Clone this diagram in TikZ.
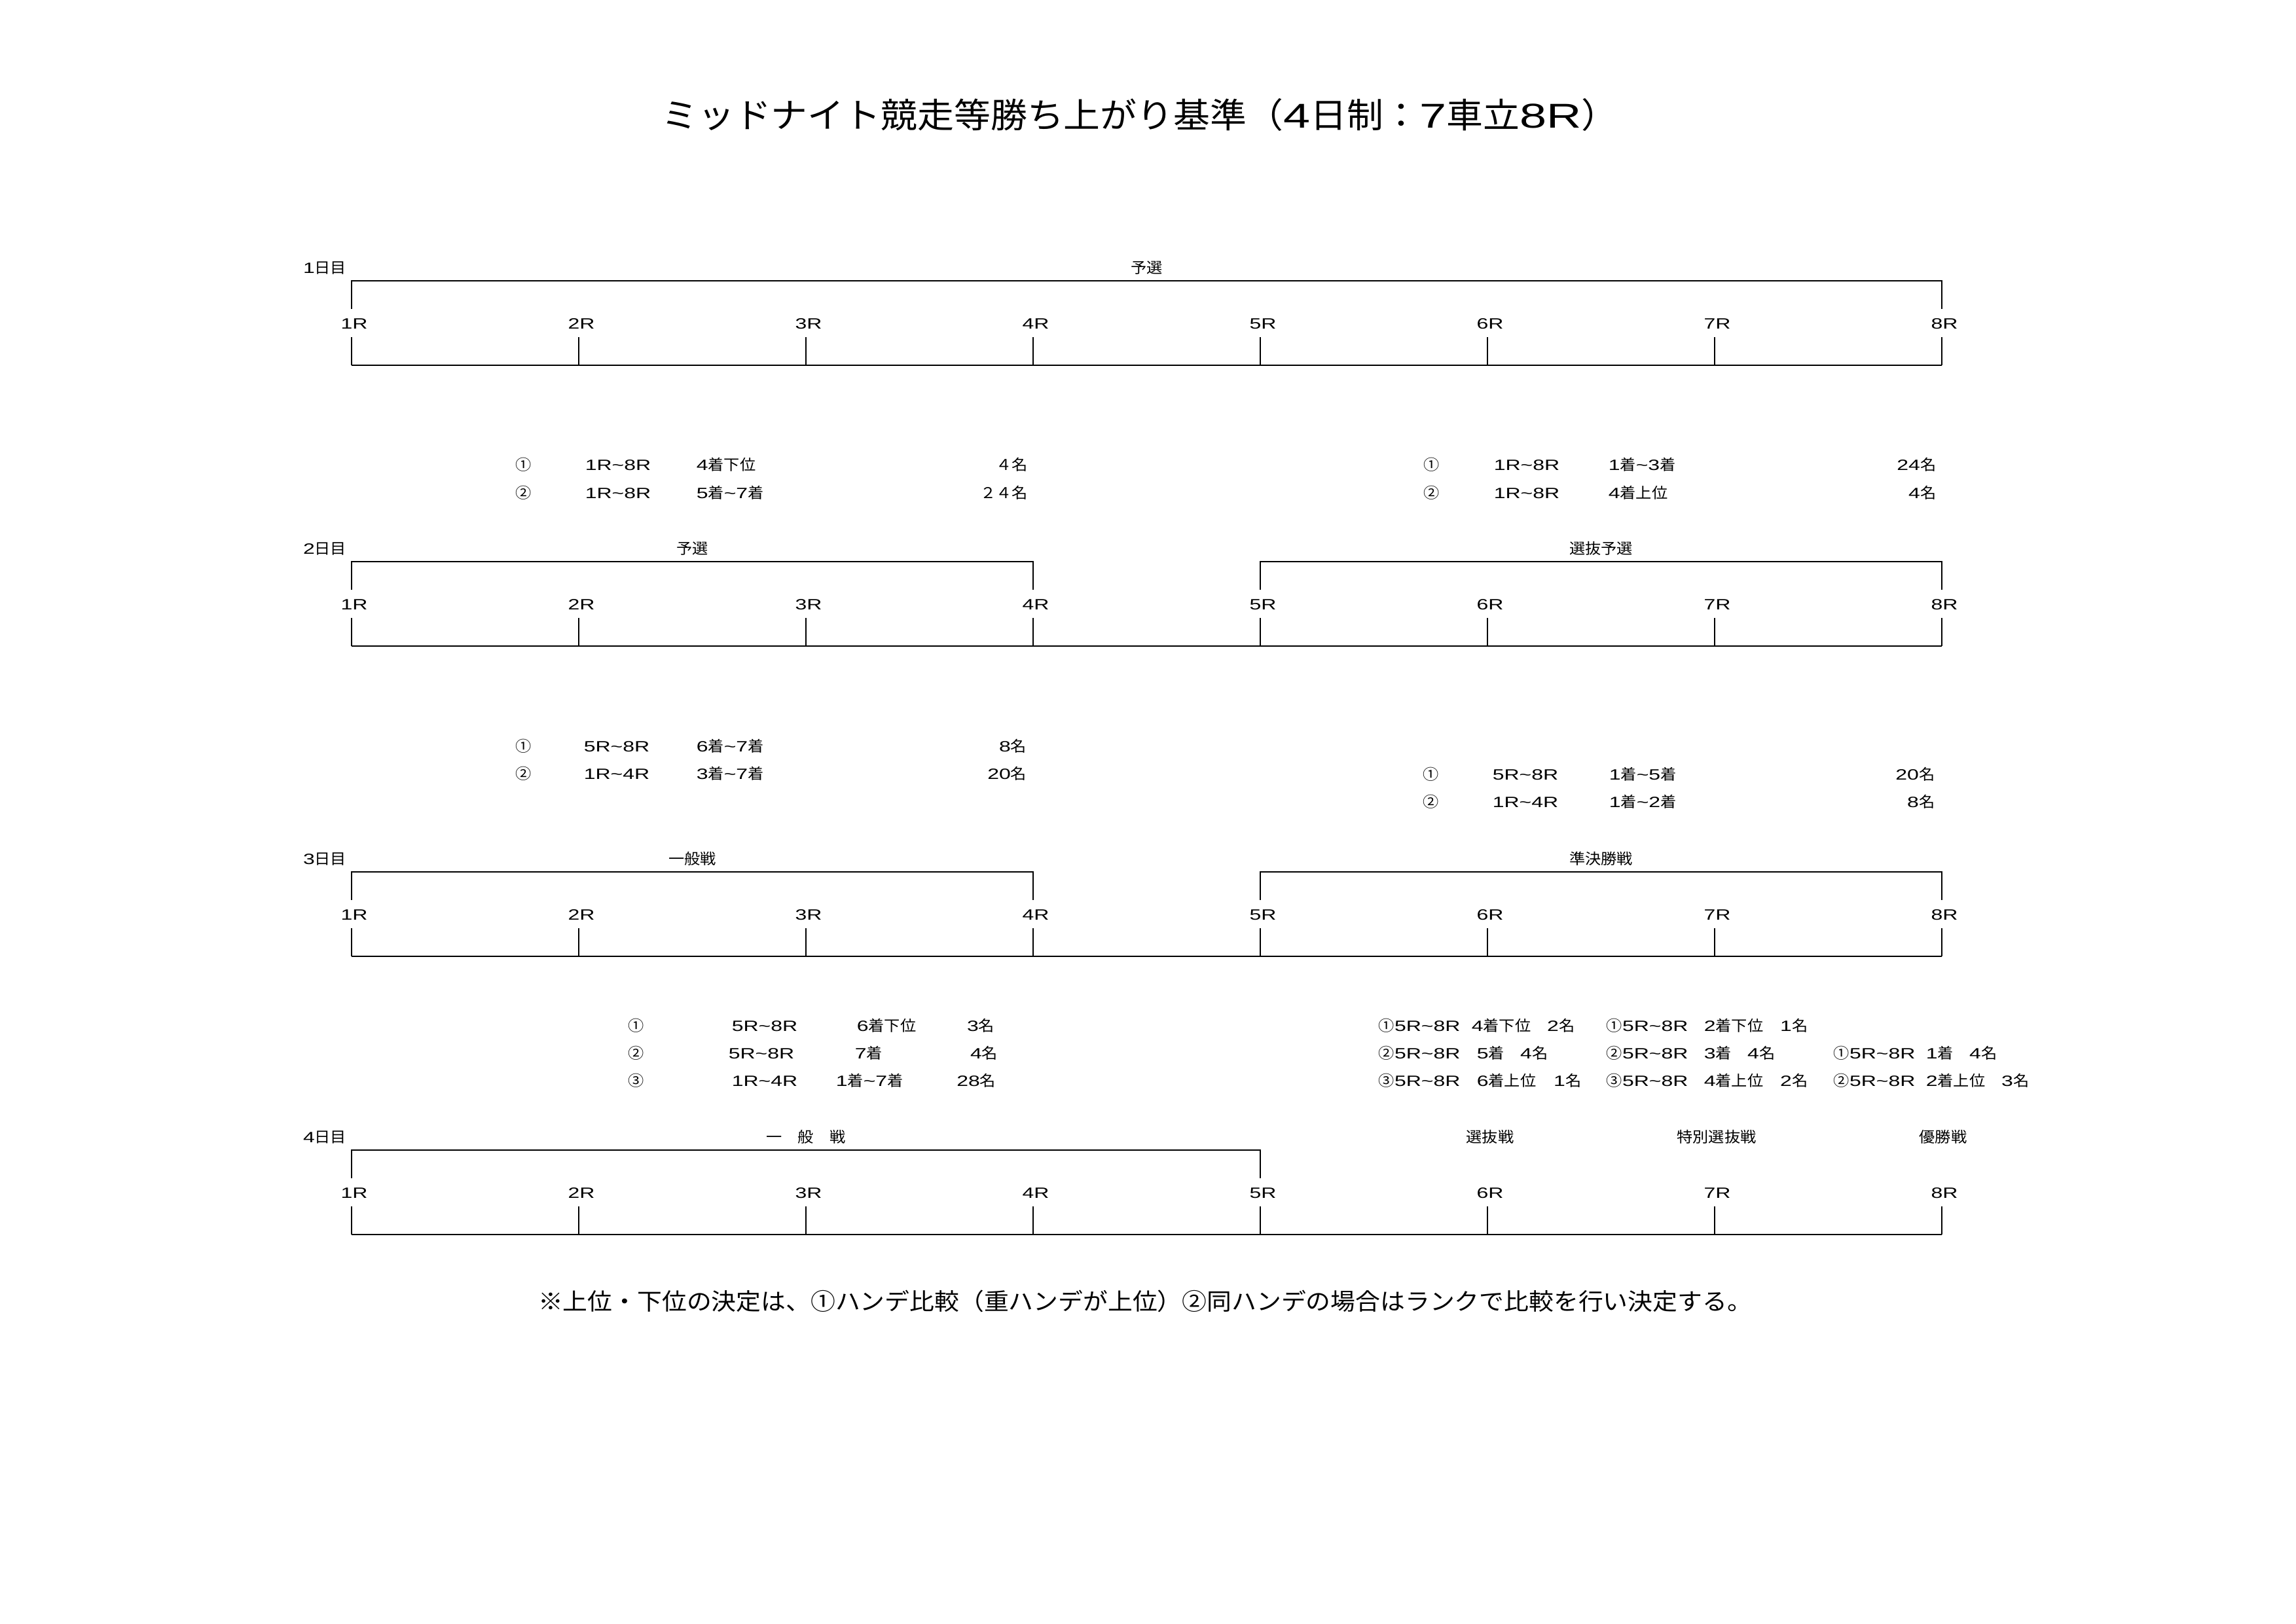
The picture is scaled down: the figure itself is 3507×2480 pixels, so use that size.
\documentclass[tikz,border=0pt]{standalone}
\usepackage{fontspec}
\setmainfont{Noto Sans CJK JP}[FakeStretch=1.06]
\newfontfamily\latf{Liberation Sans}[FakeStretch=1.4]
\newcommand\lat[1]{{\latf #1}}
\newcommand\wv{\textasciitilde}
\usetikzlibrary{calc}
\begin{document}
\begin{tikzpicture}[x=0.084688mm,y=-0.084688mm,
  ln/.style={line width=0.6pt},
  sm/.style={font=\fontsize{5.5pt}{6pt}\selectfont, inner sep=0pt, text height=4.2pt, text depth=0pt},
  ttl/.style={font=\fontsize{12.7pt}{14pt}\selectfont, inner sep=0pt, text height=9.65pt, text depth=0pt},
  note/.style={font=\fontsize{8.6pt}{10pt}\selectfont, inner sep=0pt, text height=6.5pt, text depth=0pt},
  W/.style={sm,anchor=west}, E/.style={sm,anchor=east}]
\useasboundingbox (0,0) rectangle (3507,2480);

% title
\node[ttl] (title) at (1741,175) {ミッドナイト競走等勝ち上がり基準（\lat{4}日制：\lat{7}車立\lat{8R}）};

% day timelines
\foreach \d/\T in {1/429,2/858,3/1332,4/1757}{
  \foreach \k in {1,...,8}{
    \pgfmathsetmacro\xx{537+347*(\k-1)}
    \coordinate (u\d\k) at (\xx,\T);
    \coordinate (v\d\k) at (\xx,\T+43);
    \coordinate (t\d\k) at (\xx,\T+86);
    \coordinate (b\d\k) at (\xx,\T+129);
    \node[sm] (R\d\k) at (\xx+4,\T+64.5) {\lat{\k R}};
    \draw[ln] (t\d\k) -- (b\d\k);
  }
  \draw[ln] (b\d1) -- (b\d8);
  \node[E] (D\d) at (530,\T-20) {\lat{\d}日目};
}

% brackets
\draw[ln] (v11) -- (u11) -- (u18) -- (v18);
\draw[ln] (v21) -- (u21) -- (u24) -- (v24);
\draw[ln] (v25) -- (u25) -- (u28) -- (v28);
\draw[ln] (v31) -- (u31) -- (u34) -- (v34);
\draw[ln] (v35) -- (u35) -- (u38) -- (v38);
\draw[ln] (v41) -- (u41) -- (u45) -- (v45);

% bracket labels
\node[sm] (B1) at ($(u11)!.5!(u18)+(0,-20)$) {予選};
\node[sm] (B2a) at ($(u21)!.5!(u24)+(0,-20)$) {予選};
\node[sm] (B2b) at ($(u25)!.5!(u28)+(0,-20)$) {選抜予選};
\node[sm] (B3a) at ($(u31)!.5!(u34)+(0,-20)$) {一般戦};
\node[sm] (B3b) at ($(u35)!.5!(u38)+(0,-20)$) {準決勝戦};
\node[sm] (B4a) at ($(u41)!.5!(u45)+(0,-20)$) {一　般　戦};
\node[sm] (B4b) at ($(u46)+(4,-20)$) {選抜戦};
\node[sm] (B4c) at ($(u47)+(3,-20)$) {特別選抜戦};
\node[sm] (B4d) at ($(u48)+(2,-20)$) {優勝戦};

% rows between day 1 and day 2
\node[sm] (a1c) at (800,710) {①};
\node[sm] (a2c) at (800,753) {②};
\node[W] (a1r) at (893,710) {\lat{1R\wv 8R}};
\node[W] (a2r) at (893,753) {\lat{1R\wv 8R}};
\node[W] (a1p) at (1063,710) {\lat{4}着下位};
\node[W] (a2p) at (1063,753) {\lat{5}着\lat{\wv 7}着};
\node[E] (a1n) at (1571,710) {４名};
\node[E] (a2n) at (1571,753) {２４名};
\node[sm] (a3c) at (2187,710) {①};
\node[sm] (a4c) at (2187,753) {②};
\node[W] (a3r) at (2281,710) {\lat{1R\wv 8R}};
\node[W] (a4r) at (2281,753) {\lat{1R\wv 8R}};
\node[W] (a3p) at (2456,710) {\lat{1}着\lat{\wv 3}着};
\node[W] (a4p) at (2456,753) {\lat{4}着上位};
\node[E] (a3n) at (2958,710) {\lat{24}名};
\node[E] (a4n) at (2958,753) {\lat{4}名};

% rows between day 2 and day 3
\node[sm] (b1c) at (800,1140) {①};
\node[sm] (b2c) at (800,1182) {②};
\node[W] (b1r) at (891,1140) {\lat{5R\wv 8R}};
\node[W] (b2r) at (891,1182) {\lat{1R\wv 4R}};
\node[W] (b1p) at (1063,1140) {\lat{6}着\lat{\wv 7}着};
\node[W] (b2p) at (1063,1182) {\lat{3}着\lat{\wv 7}着};
\node[E] (b1n) at (1569,1140) {\lat{8}名};
\node[E] (b2n) at (1569,1182) {\lat{20}名};
\node[sm] (b3c) at (2186,1183) {①};
\node[sm] (b4c) at (2186,1225) {②};
\node[W] (b3r) at (2279,1183) {\lat{5R\wv 8R}};
\node[W] (b4r) at (2279,1225) {\lat{1R\wv 4R}};
\node[W] (b3p) at (2457,1183) {\lat{1}着\lat{\wv 5}着};
\node[W] (b4p) at (2457,1225) {\lat{1}着\lat{\wv 2}着};
\node[E] (b3n) at (2956,1183) {\lat{20}名};
\node[E] (b4n) at (2956,1225) {\lat{8}名};

% rows between day 3 and day 4 (left)
\node[sm] (c1c) at (972,1567) {①};
\node[sm] (c2c) at (972,1609) {②};
\node[sm] (c3c) at (972,1651) {③};
\node[W] (c1r) at (1117,1567) {\lat{5R\wv 8R}};
\node[W] (c2r) at (1112,1609) {\lat{5R\wv 8R}};
\node[W] (c3r) at (1117,1651) {\lat{1R\wv 4R}};
\node[W] (c1p) at (1308,1567) {\lat{6}着下位};
\node[W] (c2p) at (1305,1609) {\lat{7}着};
\node[W] (c3p) at (1276,1651) {\lat{1}着\lat{\wv 7}着};
\node[E] (c1n) at (1520,1567) {\lat{3}名};
\node[E] (c2n) at (1525,1609) {\lat{4}名};
\node[E] (c3n) at (1522,1651) {\lat{28}名};

% rows between day 3 and day 4 (right)
\node[W] (d1r) at (2105,1567) {①\lat{5R\wv 8R}};
\node[W] (d2r) at (2105,1609) {②\lat{5R\wv 8R}};
\node[W] (d3r) at (2105,1651) {③\lat{5R\wv 8R}};
\node[W] (d1p) at (2247,1567) {\lat{4}着下位};
\node[W] (d2p) at (2255,1609) {\lat{5}着};
\node[W] (d3p) at (2255,1651) {\lat{6}着上位};
\node[E] (d1n) at (2406,1567) {\lat{2}名};
\node[E] (d2n) at (2365,1609) {\lat{4}名};
\node[E] (d3n) at (2416,1651) {\lat{1}名};
\node[W] (e1r) at (2453,1567) {①\lat{5R\wv 8R}};
\node[W] (e2r) at (2453,1609) {②\lat{5R\wv 8R}};
\node[W] (e3r) at (2453,1651) {③\lat{5R\wv 8R}};
\node[W] (e1p) at (2602,1567) {\lat{2}着下位};
\node[W] (e2p) at (2602,1609) {\lat{3}着};
\node[W] (e3p) at (2602,1651) {\lat{4}着上位};
\node[E] (e1n) at (2762,1567) {\lat{1}名};
\node[E] (e2n) at (2712,1609) {\lat{4}名};
\node[E] (e3n) at (2762,1651) {\lat{2}名};
\node[W] (f2r) at (2800,1609) {①\lat{5R\wv 8R}};
\node[W] (f3r) at (2800,1651) {②\lat{5R\wv 8R}};
\node[W] (f2p) at (2941,1609) {\lat{1}着};
\node[W] (f3p) at (2941,1651) {\lat{2}着上位};
\node[E] (f2n) at (3051,1609) {\lat{4}名};
\node[E] (f3n) at (3100,1651) {\lat{3}名};

% footnote
\node[note] (fn) at (1749,1988) {※上位・下位の決定は、①ハンデ比較（重ハンデが上位）②同ハンデの場合はランクで比較を行い決定する。};
\end{tikzpicture}
\end{document}
